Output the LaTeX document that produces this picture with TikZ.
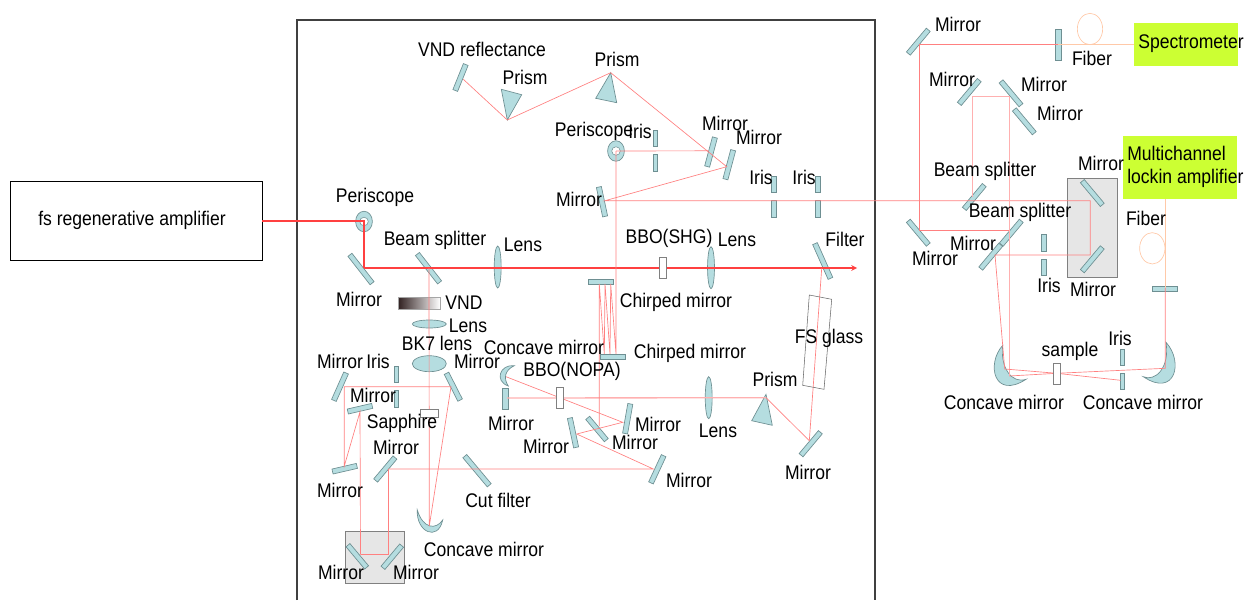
\documentclass[tikz,border=0pt]{standalone}
\usepackage{fontspec}
\usetikzlibrary{shapes.geometric}
\setmainfont[FakeStretch=.89]{Liberation Sans}
\definecolor{compfill}{HTML}{B5DDE0}
\definecolor{compedge}{HTML}{6E8F92}
\definecolor{beamc}{HTML}{FF8080}
\definecolor{mainc}{HTML}{FF4040}
\definecolor{softc}{HTML}{FFB0B0}
\definecolor{fiberc}{HTML}{FFC9A8}
\definecolor{limec}{HTML}{CCFF33}
\definecolor{boxg}{HTML}{E6E6E6}
\definecolor{vndc}{HTML}{302020}
\tikzset{
  lab/.style={font=\fontsize{14.8}{16}\selectfont, inner sep=0pt, text=black},
  len/.style={minimum width=#1*0.75pt},
  opt/.style={draw=compedge, fill=compfill, line width=.5pt, inner sep=0pt, minimum height=3.8pt, minimum width=22.5pt},
  lensv/.style={ellipse, draw=compedge, fill=compfill, line width=.5pt, inner sep=0pt, minimum width=5.2pt, minimum height=31.5pt},
  lensh/.style={ellipse, draw=compedge, fill=compfill, line width=.5pt, inner sep=0pt},
  slab/.style={draw=gray, fill=white, line width=.5pt, inner sep=0pt},
  iris/.style={opt, minimum width=3.4pt, minimum height=12.4pt},
  peri/.style={ellipse, draw=compedge, fill=compfill, line width=.5pt, inner sep=0pt, minimum width=12.6pt, minimum height=15.4pt},
  perin/.style={circle, draw=compedge, fill=white, line width=.4pt, inner sep=0pt, minimum size=6.4pt},
  fib/.style={ellipse, draw=fiberc, line width=.5pt, inner sep=0pt, minimum width=19pt, minimum height=23.5pt},
  beam/.style={draw=beamc, line width=.5pt},
  softbeam/.style={draw=softc, line width=1pt},
  mainbeam/.style={draw=mainc, line width=.9pt},
  fiberbeam/.style={draw=fiberc, line width=.7pt},
  graybox/.style={draw=gray, fill=boxg, line width=.6pt, inner sep=0pt},
  limebox/.style={fill=limec, inner sep=0pt}
}
\begin{document}
\begin{tikzpicture}[x=0.75pt,y=-0.75pt]
\useasboundingbox (0,0) rectangle (1245,600);
% frames
\node[draw=black, line width=.7pt, minimum width=189pt, minimum height=59.25pt, inner sep=0pt] (amp) at (136,220.5) {};
\draw[draw=black!75, line width=.8pt] (297,600) -- (297,20) -- (875,20) -- (875,600);
\node[graybox, minimum width=44.2pt, minimum height=39.2pt] (gb1) at (374.8,557.2) {};
\node[graybox, minimum width=37.5pt, minimum height=74.2pt] (gb2) at (1092.3,227.8) {};
\node[limebox, minimum width=77.8pt, minimum height=31.8pt] (spec) at (1186.2,44.5) {};
\node[limebox, minimum width=85.7pt, minimum height=47.2pt] (lock) at (1179.9,167.2) {};
% components
\node[opt,rotate=-52,len=36] (m1) at (361,269) {};
\node[opt,rotate=-52,len=36] (bs1) at (428.5,268.2) {};
\node[opt,rotate=68,len=28] (mv) at (460.5,77.5) {};
\node[lensv] (l1) at (497.7,267) {};
\node[lensv] (l2) at (711,267.7) {};
\node[lensv] (l3) at (708.7,397.7) {};
\node[lensh, minimum width=25.5pt, minimum height=6pt] (l4) at (429.3,324) {};
\node[lensh, minimum width=25.5pt, minimum height=12pt] (l5) at (429.3,363.7) {};
\node[draw=gray!70, line width=.4pt, left color=vndc, right color=white, minimum width=31.5pt, minimum height=9pt, inner sep=0pt] (vnd) at (419,303) {};
\node[peri] (p1) at (364,221.5) {};
\node[perin] (p1i) at (364,221.5) {};
\node[peri] (p2) at (616,151) {};
\node[perin] (p2i) at (616,151) {};
\node[opt,rotate=75] (ma) at (711,152) {};
\node[opt,rotate=75] (mb) at (729.3,164.7) {};
\node[opt,rotate=-78] (mc) at (602,201.7) {};
\node[iris] (i3a) at (655.3,138.5) {};
\node[iris] (i3b) at (655.3,162.7) {};
\node[iris] (i4a) at (774,184.5) {};
\node[iris] (i4b) at (774,209) {};
\node[iris] (i5a) at (818,184.5) {};
\node[iris] (i5b) at (818,209) {};
\node[opt,rotate=-66,len=38] (fl) at (822.7,261) {};
\node[opt,len=25] (ch1) at (600.8,281.7) {};
\node[opt,len=25] (ch2) at (613,357) {};
\node[opt,rotate=-63] (md) at (453.3,386.7) {};
\node[opt,rotate=66] (me) at (340,386.7) {};
\node[opt,rotate=13,len=25] (mf) at (360,408.7) {};
\node[opt,rotate=13,len=25] (mg) at (344.7,468.7) {};
\node[iris] (i1a) at (396.5,374.3) {};
\node[iris] (i1b) at (396.5,399) {};
\node[opt,rotate=50] (mh) at (385.3,469) {};
\node[opt,rotate=-50,len=38] (cf) at (477,470.7) {};
\node[opt,rotate=-50,len=29] (mi) at (357.3,556.3) {};
\node[opt,rotate=50,len=29] (mj) at (392.3,556.7) {};
\node[opt,rotate=90,len=21] (mk) at (505.3,399.3) {};
\node[opt,rotate=80,len=30] (ml) at (627.7,418.7) {};
\node[opt,rotate=-78] (mm) at (573,432.7) {};
\node[opt,rotate=-50,len=29] (mn) at (597,429) {};
\node[opt,rotate=65] (mo) at (657.3,469.3) {};
\node[opt,rotate=50] (mp) at (810.7,443.7) {};
\draw[opt] (417.3,510) .. controls (416,532) and (438,542) .. (442.7,520) .. controls (436,530) and (423,529) .. (417.3,510) -- cycle;
\draw[opt] (514.3,365.7) .. controls (500,364) and (494,381) .. (508.3,386) .. controls (503,378) and (505,370) .. (514.3,365.7) -- cycle;
\draw[opt] (501.3,89.3) -- (521.7,94.7) -- (507.3,120) -- cycle;
\draw[opt] (610.7,72.7) -- (595.7,98.3) -- (616.7,102.7) -- cycle;
\draw[opt] (766,394.3) -- (751.7,420.7) -- (772.3,425.3) -- cycle;
% right table components
\node[opt,rotate=50,len=31] (ra) at (918.3,41.7) {};
\node[opt,rotate=90,len=31] (rb) at (1058.3,44.7) {};
\node[opt,rotate=50,len=31] (rc) at (969.3,92) {};
\node[opt,rotate=-50,len=31] (rd) at (1011,93.3) {};
\node[opt,rotate=-50,len=31] (re) at (1024.3,121.3) {};
\node[opt,rotate=50,len=31] (rf) at (974.3,197) {};
\node[opt,rotate=50,len=31] (rg) at (1011.3,232.7) {};
\node[opt,rotate=-50,len=31] (rh) at (918.3,232.7) {};
\node[opt,rotate=50,len=31] (ri) at (990.7,256.7) {};
\node[opt,rotate=-50,len=31] (rj) at (1092.3,193) {};
\node[opt,rotate=50,len=31] (rk) at (1092.3,259.3) {};
\node[iris] (i6a) at (1043.7,243) {};
\node[iris] (i6b) at (1043.7,267.3) {};
\node[iris] (i7a) at (1122.3,357.3) {};
\node[iris] (i7b) at (1122.3,381.3) {};
\node[opt,len=25] (rl) at (1165,288.7) {};
\node[fib] (f1) at (1090,29) {};
\node[fib] (f2) at (1152.3,248.3) {};
\draw[opt] (1002.7,345.3) .. controls (986,364) and (994,400) .. (1026,379.3) .. controls (1012,384) and (1000,368) .. (1002.7,345.3) -- cycle;
\draw[opt] (1166,342.3) .. controls (1184,362) and (1175,398) .. (1143.3,376.7) .. controls (1155,382) and (1170,368) .. (1166,342.3) -- cycle;
% beam points
\coordinate (b0) at (262,221);
\coordinate (b1) at (364,221);
\coordinate (b2) at (364,268);
\coordinate (bend) at (857,268);
\coordinate (bs) at (429,268);
\coordinate (cm) at (429.3,526);
\coordinate (bd) at (451,386.7);
\coordinate (be) at (344.3,386.7);
\coordinate (bg) at (344.3,466);
\coordinate (bf) at (360,411.7);
\coordinate (bi) at (360.5,554.7);
\coordinate (bj) at (388.7,554.7);
\coordinate (bh) at (388.7,469);
\coordinate (bo) at (653.3,469);
\coordinate (bv) at (463.3,79.3);
\coordinate (bp1) at (507.3,120);
\coordinate (bp2) at (610.7,72.7);
\coordinate (bb) at (726.7,166.7);
\coordinate (bc) at (605,200.7);
\coordinate (bx) at (1090.3,200.7);
\coordinate (ba) at (708.3,150.8);
\coordinate (bk) at (507,398);
\coordinate (bp3) at (766,397.7);
\coordinate (bp) at (809.3,440.7);
\coordinate (bfl) at (821.7,268.3);
\coordinate (bcm) at (506,376.7);
\coordinate (bl) at (622.7,422.3);
\coordinate (bm) at (576.7,434);
% beams
\draw[mainbeam] (b0) -- (b1) -- (b2);
\draw[mainbeam,-stealth] (b2) -- (bend);
\draw[beam] (bs) -- (cm) -- (bd) -- (be) -- (bg) -- (bf) -- (bi);
\draw[softbeam,draw=beamc,line width=.6pt] (bi) -- (bj) -- (bh);
\draw[beam] (bh) -- (bo) -- (bm) -- (bl) -- (bcm);
\draw[beam] (bv) -- (bp1) -- (bp2) -- (bb) -- (bc) -- (bx);
\draw[beam] (p2.center) -- (ba);
\draw[softbeam] (bk) -- (bp3);
\draw[beam] (bp3) -- (bp) -- (bfl);
\draw[beam] (p2.center) -- (616,354) -- (610.7,284) -- (610,354) -- (605,284) -- (604.3,354) -- (599.3,284) -- (599.3,426);
% right beams
\coordinate (ra1) at (919.7,44.3);
\coordinate (rb1) at (1058.3,44.3);
\coordinate (rs1) at (1134,44.3);
\coordinate (rh1) at (919.7,230);
\coordinate (rg1) at (1010,230);
\coordinate (rc1) at (972.3,96);
\coordinate (rd1) at (1009.3,96);
\coordinate (rf1) at (972.3,197);
\coordinate (rp1) at (1009.3,376);
\coordinate (rk1) at (1090.3,255);
\coordinate (ri1) at (995,255);
\coordinate (rq1) at (1004.7,369);
\coordinate (rs2) at (1056.7,373.3);
\coordinate (rr1) at (1165.3,368.3);
\coordinate (rt1) at (1120.7,380.3);
\coordinate (ru1) at (1165.3,198.7);
\coordinate (ru2) at (1165.3,288);
\draw[beam] (ra1) -- (rb1);
\draw[fiberbeam] (rb1) -- (rs1);
\draw[beam] (ra1) -- (rh1) -- (rg1);
\draw[softbeam,line width=.7pt] (rf1) -- (rc1) -- (rd1) -- (rp1);
\draw[beam] (bx) -- (rk1) -- (ri1) -- (rq1) -- (rs2) -- (rr1) -- (ru2);
\draw[beam] (rp1) -- (rs2) -- (rt1);
\draw[fiberbeam] (ru1) -- (ru2);
% parts over the beams
\node[slab, minimum width=13pt, minimum height=6pt] (sap) at (429.3,413.3) {};
\node[slab, minimum width=5pt, minimum height=16pt] (bbo1) at (662.8,268) {};
\node[slab, minimum width=5pt, minimum height=16pt] (bbo2) at (559.5,398) {};
\node[slab, minimum width=5pt, minimum height=16pt] (smp) at (1057,373.7) {};
\draw[draw=black!60, line width=.4pt] (809.3,295) -- (831.7,299.3) -- (824,389.3) -- (802.7,385.3) -- cycle;
% labels
\node[lab] (t1) at (132,220) {fs regenerative amplifier};
\node[lab] (t2) at (375,197) {Periscope};
\node[lab] (t3) at (359,299) {Mirror};
\node[lab] (t4) at (435,240) {Beam splitter};
\node[lab] (t5) at (523,245) {Lens};
\node[lab] (t6) at (482,49) {VND reflectance};
\node[lab] (t7) at (525,77) {Prism};
\node[lab] (t8) at (617,59) {Prism};
\node[lab] (t9) at (594,131) {Periscope};
\node[lab] (t10) at (640,131) {Iris};
\node[lab] (t11) at (725,123) {Mirror};
\node[lab] (t12) at (759,137) {Mirror};
\node[lab] (t13) at (761,177) {Iris};
\node[lab] (t14) at (804,177) {Iris};
\node[lab] (t15) at (579,199) {Mirror};
\node[lab] (t16) at (669,238) {BBO(SHG)};
\node[lab] (t17) at (737,240) {Lens};
\node[lab] (t18) at (845,239) {Filter};
\node[lab] (t19) at (676,302) {Chirped mirror};
\node[lab] (t20) at (690,353) {Chirped mirror};
\node[lab] (t21) at (464,303) {VND};
\node[lab] (t22) at (468,326) {Lens};
\node[lab] (t23) at (437,343) {BK7 lens};
\node[lab] (t24) at (340,361) {Mirror};
\node[lab] (t25) at (378,361) {Iris};
\node[lab] (t26) at (477,361) {Mirror};
\node[lab] (t27) at (544,347) {Concave mirror};
\node[lab] (t28) at (572,371) {BBO(NOPA)};
\node[lab] (t29) at (373,395) {Mirror};
\node[lab] (t30) at (402,423) {Sapphire};
\node[lab] (t31) at (396,447) {Mirror};
\node[lab] (t32) at (340,490) {Mirror};
\node[lab] (t33) at (498,500) {Cut filter};
\node[lab] (t34) at (484,549) {Concave mirror};
\node[lab] (t35) at (341,572) {Mirror};
\node[lab] (t36) at (416,572) {Mirror};
\node[lab] (t37) at (511,423) {Mirror};
\node[lab] (t38) at (546,446) {Mirror};
\node[lab] (t39) at (658,424) {Mirror};
\node[lab] (t40) at (635,442) {Mirror};
\node[lab] (t41) at (689,480) {Mirror};
\node[lab] (t42) at (718,431) {Lens};
\node[lab] (t43) at (775,379) {Prism};
\node[lab] (t44) at (808,472) {Mirror};
\node[lab] (t45) at (829,338) {FS glass};
\node[lab] (t46) at (958,24) {Mirror};
\node[lab] (t47) at (1092,58) {Fiber};
\node[lab] (t48) at (1191,44) {Spectrometer};
\node[lab] (t49) at (952,79) {Mirror};
\node[lab] (t50) at (1044,84) {Mirror};
\node[lab] (t51) at (1060,113) {Mirror};
\node[lab] (t52) at (985,171) {Beam splitter};
\node[lab] (t53) at (1101,163) {Mirror};
\node[lab, align=left, anchor=west, font=\fontsize{14.8}{17.5}\selectfont] (t54) at (1127,167) {Multichannel\\lockin amplifier};
\node[lab] (t55) at (1020,212) {Beam splitter};
\node[lab] (t56) at (1146,218) {Fiber};
\node[lab] (t57) at (973,243) {Mirror};
\node[lab] (t58) at (935,258) {Mirror};
\node[lab] (t59) at (1049,285) {Iris};
\node[lab] (t60) at (1093,289) {Mirror};
\node[lab] (t61) at (1070,351) {sample};
\node[lab] (t62) at (1120,338) {Iris};
\node[lab] (t63) at (1004,402) {Concave mirror};
\node[lab] (t64) at (1143,402) {Concave mirror};
\end{tikzpicture}
\end{document}
